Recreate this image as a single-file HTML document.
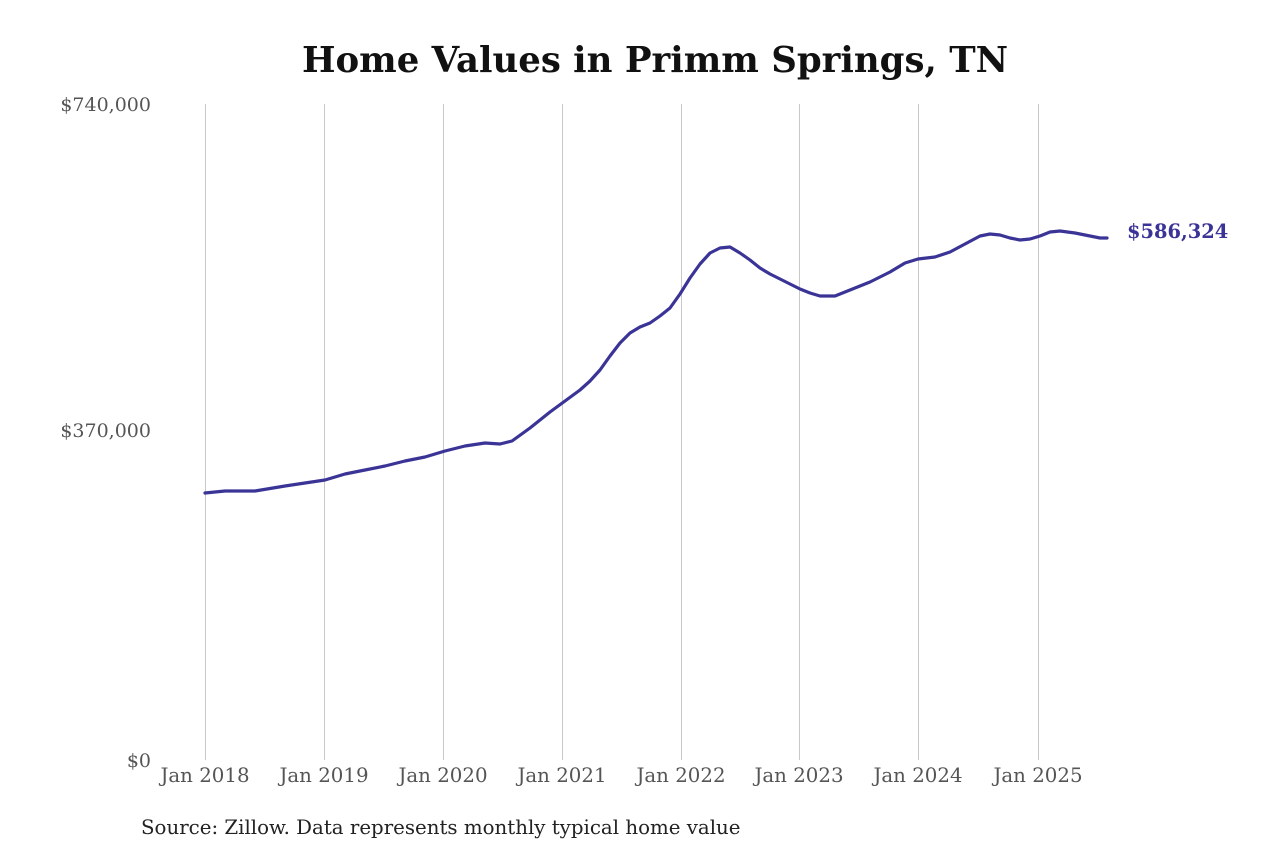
<!DOCTYPE html>
<html><head><meta charset="utf-8"><style>
html,body{margin:0;padding:0;background:#fff;width:1280px;height:853px;overflow:hidden}
svg{display:block}
text{font-family:"DejaVu Serif","Liberation Serif",serif}
</style></head><body>
<svg width="1280" height="853" viewBox="0 0 1280 853">
<text x="655" y="72" text-anchor="middle" font-size="35.5" font-weight="bold" fill="#111">Home Values in Primm Springs, TN</text>
<g stroke="#c8c8c8" stroke-width="1">
<line x1="205.5" y1="104" x2="205.5" y2="760"/>
<line x1="324.5" y1="104" x2="324.5" y2="760"/>
<line x1="443.5" y1="104" x2="443.5" y2="760"/>
<line x1="562.5" y1="104" x2="562.5" y2="760"/>
<line x1="681.5" y1="104" x2="681.5" y2="760"/>
<line x1="799.5" y1="104" x2="799.5" y2="760"/>
<line x1="918.5" y1="104" x2="918.5" y2="760"/>
<line x1="1038.5" y1="104" x2="1038.5" y2="760"/>
</g>
<g font-size="19" fill="#555" text-anchor="end">
<text x="151" y="111">$740,000</text>
<text x="151" y="437">$370,000</text>
<text x="151" y="767">$0</text>
</g>
<g font-size="19.8" fill="#555" text-anchor="middle">
<text x="205" y="782">Jan 2018</text>
<text x="324" y="782">Jan 2019</text>
<text x="443" y="782">Jan 2020</text>
<text x="562" y="782">Jan 2021</text>
<text x="681" y="782">Jan 2022</text>
<text x="799" y="782">Jan 2023</text>
<text x="918" y="782">Jan 2024</text>
<text x="1038" y="782">Jan 2025</text>
</g>
<polyline fill="none" stroke="#3b3497" stroke-width="3.2" stroke-linejoin="round" stroke-linecap="round" points="205,493 225,491 255,491 285,486 305,483 325,480 345,474 365,470 385,466 405,461 425,457 445,451 465,446 485,443 500,444 512,441 530,428 550,412 565,401 580,390 590,381 600,370 610,356 620,343 630,333 640,327 650,323 660,316 670,308 680,294 690,278 700,264 710,253 720,248 730,247 740,253 750,260 760,268 770,274 780,279 790,284 800,289 810,293 820,296 835,296 850,290 870,282 890,272 905,263 918,259 935,257 950,252 965,244 980,236 990,234 1000,235 1010,238 1020,240 1030,239 1040,236 1050,232 1060,231 1075,233 1090,236 1100,238 1107,238"/>
<text x="1127" y="238" font-size="19.4" font-weight="bold" fill="#3b3497">$586,324</text>
<text x="141" y="834" font-size="19.8" fill="#222">Source: Zillow. Data represents monthly typical home value</text>
</svg>
</body></html>
